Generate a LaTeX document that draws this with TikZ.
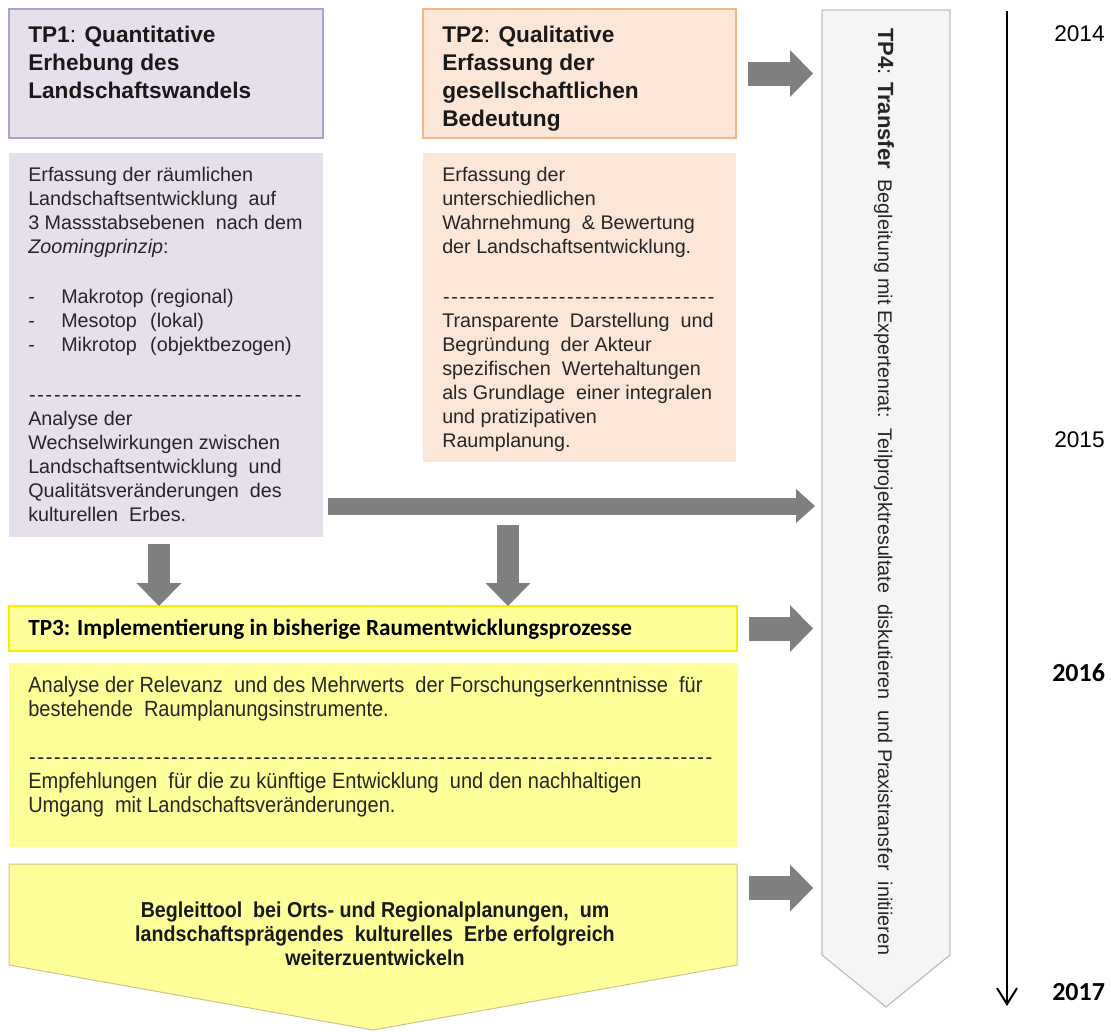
\documentclass[tikz,border=0pt]{standalone}
\usepackage{fontspec}
\setmainfont{Liberation Sans}
\newfontfamily\schmalfont[FakeStretch=0.91]{Liberation Sans}
\newfontfamily\calfont{Carlito}
\usetikzlibrary{arrows.meta,fit,calc}

\definecolor{lilafill}{HTML}{E5E0EC}
\definecolor{lilarand}{HTML}{B1A0C7}
\definecolor{pfirsichfill}{HTML}{FCE6D8}
\definecolor{pfirsichrand}{HTML}{F6B587}
\definecolor{gelbfill}{HTML}{FFFF99}
\definecolor{gelbrand}{HTML}{F2F200}
\definecolor{ergebnisrand}{HTML}{CBC58C}
\definecolor{tpviergrau}{HTML}{F5F5F5}
\definecolor{tpvierrand}{HTML}{BFBFBF}
\definecolor{pfeilgrau}{HTML}{7F7F7F}

% Trennlinie aus Bindestrichen
\newcommand\trennlinie[1]{\hbox to #1{\xleaders\hbox to 6.2pt{\hss-\hss}\hfill}}

\begin{document}
\begin{tikzpicture}[x=0.75pt,y=-0.75pt,
	kasten/.style={inner sep=0pt, outer sep=0pt},
	kopftxt/.style={anchor=north west, inner sep=0pt, align=left, text=black!90,
		font=\fontsize{17}{21}\selectfont\bfseries},
	fliesstxt/.style={anchor=north west, inner sep=0pt, align=left, text=black!85,
		font=\fontsize{14.8}{18}\selectfont},
	rechtspfeil/.style={draw=pfeilgrau, line width=18pt, shorten <=9pt,
		-{Triangle[length=17.25pt,width=35.25pt,line width=0pt]}},
	langpfeil/.style={draw=pfeilgrau, line width=12.75pt,
		-{Triangle[length=14.25pt,width=25.5pt,line width=0pt]}},
	abpfeil/.style={draw=pfeilgrau, line width=16.5pt,
		-{Triangle[length=17.25pt,width=33.75pt,line width=0pt]}},
	jahr/.style={anchor=west, inner sep=0pt, font=\fontsize{17}{20}\selectfont},
	jahrfett/.style={anchor=west, inner sep=0pt, font=\calfont\bfseries\fontsize{19.5}{22}\selectfont}]
	\useasboundingbox (0,0) rectangle (1111,1032);

	% Teilprojekte 1 und 2
	\node [kasten, fit={(9,9) (323,138)}, fill=lilafill, draw=lilarand, line width=1.5pt] (tp1head) {};
	\node [kasten, fit={(9,153) (323,537)}, fill=lilafill] (tp1body) {};
	\node [kasten, fit={(423,9) (736,138)}, fill=pfirsichfill, draw=pfirsichrand, line width=1.5pt] (tp2head) {};
	\node [kasten, fit={(423,153) (736,462)}, fill=pfirsichfill] (tp2body) {};

	\node [kopftxt] (tp1titel) at (28,26) {TP1{\mdseries:} Quantitative\\Erhebung des\\Landschaftswandels};
	\node [kopftxt] (tp2titel) at (442,26) {TP2{\mdseries:} Qualitative\\Erfassung der\\gesellschaftlichen\\Bedeutung};

	\node [fliesstxt] (tp1text) at (28,167) {Erfassung der räumlichen\\
		Landschaftsentwicklung\ \ auf\\
		3 Massstabsebenen\ \ nach dem\\
		\textit{Zoomingprinzip}:\\[19.5pt]
		\makebox[24.75pt][l]{-}\makebox[66.75pt][l]{Makrotop}(regional)\\
		\makebox[24.75pt][l]{-}\makebox[66.75pt][l]{Mesotop}(lokal)\\
		\makebox[24.75pt][l]{-}\makebox[66.75pt][l]{Mikrotop}(objektbezogen)\\[19.5pt]
		\trennlinie{205.5pt}\\
		Analyse der\\
		Wechselwirkungen zwischen\\
		Landschaftsentwicklung\ \ und\\
		Qualitätsveränderungen\ \ des\\
		kulturellen\ \ Erbes.};

	\node [fliesstxt] (tp2text) at (442,167) {Erfassung der\\
		unterschiedlichen\\
		Wahrnehmung\ \ \& Bewertung\\
		der Landschaftsentwicklung.\\[19.5pt]
		\trennlinie{204.75pt}\\
		Transparente\ \ Darstellung\ \ und\\
		Begründung\ \ der Akteur\\
		spezifischen\ \ Wertehaltungen\\
		als Grundlage\ \ einer integralen\\
		und pratizipativen\\
		Raumplanung.};

	% Teilprojekt 3
	\node [kasten, fit={(9,606) (737,651)}, fill=gelbfill, draw=gelbrand, line width=1.5pt] (tp3head) {};
	\node [kasten, fit={(9,663) (737,847)}, fill=gelbfill] (tp3body) {};
	\node [anchor=west, inner sep=0pt, font=\calfont\bfseries\fontsize{17.4}{20}\selectfont] (tp3titel) at (28,629)
		{TP3: Implementierung in bisherige Raumentwicklungsprozesse};
	\node [fliesstxt, font=\schmalfont\fontsize{16.5}{18}\selectfont] (tp3text) at (28,676)
		{Analyse der Relevanz\ \ und des Mehrwerts\ \ der Forschungserkenntnisse\ \ für\\
		bestehende\ \ Raumplanungsinstrumente.\\[18pt]
		\trennlinie{513.75pt}\\
		Empfehlungen\ \ für die zu künftige Entwicklung\ \ und den nachhaltigen\\
		Umgang\ \ mit Landschaftsveränderungen.};

	% Ergebnis
	\node [kasten, fit={(9,864) (737,965)}] (ergebnis) {};
	\filldraw [fill=gelbfill, draw=ergebnisrand, line width=.75pt] (ergebnis.north west) -- (ergebnis.north east)
		-- (ergebnis.south east) -- ($(ergebnis.south)+(0,65)$) -- (ergebnis.south west) -- cycle;
	\node [align=center, inner sep=0pt, text=black!90, font=\schmalfont\bfseries\fontsize{16.2}{18}\selectfont] (ergebnistext) at (375,934)
		{Begleittool\ \ bei Orts- und Regionalplanungen,\ \ um\\
		landschaftsprägendes\ \ kulturelles\ \ Erbe erfolgreich\\
		weiterzuentwickeln};

	% Teilprojekt 4
	\node [kasten, fit={(822,10) (950,955)}] (tp4) {};
	\filldraw [fill=tpviergrau, draw=tpvierrand, line width=.9pt] (tp4.north west) -- (tp4.north east)
		-- (tp4.south east) -- ($(tp4.south)+(0,52)$) -- (tp4.south west) -- cycle;
	\node [rotate=-90, anchor=west, inner sep=0pt, text=black!85, font=\fontsize{14.8}{18}\selectfont] (tp4text) at (884,28)
		{{\fontsize{16.5}{18}\selectfont\bfseries TP4}{\fontsize{16.5}{18}\selectfont:} {\fontsize{16.5}{18}\selectfont\bfseries Transfer}\ \
		Begleitung mit Expertenrat:\ \ Teilprojektresultate\ \ diskutieren\ \ und Praxistransfer\ \ initiieren};

	% Pfeile
	\coordinate (zielpfeil) at (737,888);
	\coordinate (langstart) at (323,506);
	\coordinate (tp1ab) at (159,537);
	\coordinate (tp2ab) at (508,514);
	\foreach \quelle in {tp2head.east, tp3head.east, zielpfeil} {
		\draw [rechtspfeil, shorten >=6.75pt] (\quelle) -- (tp4.west |- \quelle);
	}
	\draw [langpfeil, shorten <=3.75pt, shorten >=5.25pt] (langstart) -- (tp4.west |- langstart);
	\draw [abpfeil, shorten <=5.25pt] (tp1ab) -- (tp1ab |- tp3head.north);
	\draw [abpfeil, shorten <=8.25pt] (tp2ab) -- (tp2ab |- tp3head.north);

	% Zeitachse
	\coordinate (zeitstart) at (1007,11);
	\coordinate (zeitende) at (1007,1006);
	\draw [line width=1.5pt, -{Straight Barb[length=12pt,width=15pt]}] (zeitstart) -- (zeitende);
	\node [jahr] (j2014) at (1054,34) {2014};
	\node [jahr] (j2015) at (1054,440) {2015};
	\node [jahrfett] (j2016) at (1052,673) {2016};
	\node [jahrfett] (j2017) at (1052,992) {2017};
\end{tikzpicture}
\end{document}
